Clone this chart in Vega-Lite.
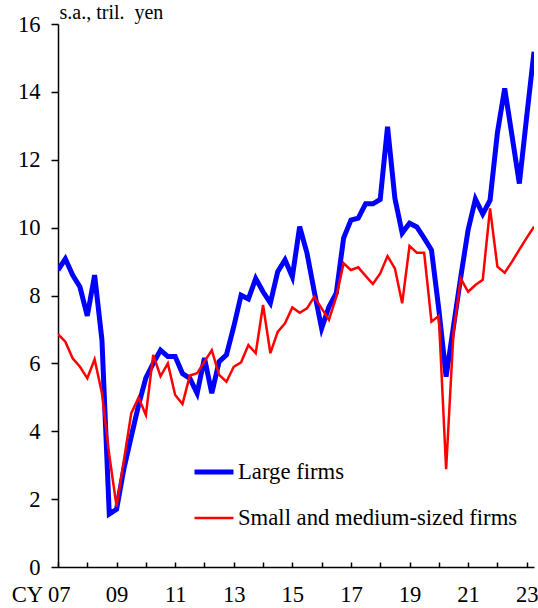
{
  "$schema": "https://vega.github.io/schema/vega-lite/v6.json",
  "autosize": {"type": "none"},
  "padding": {"left": 58, "top": 24, "right": 4, "bottom": 41},
  "width": 476,
  "height": 543,
  "background": "white",
  "config": {
    "view": {"stroke": null},
    "font": "Times New Roman, Liberation Serif, serif",
    "axis": {"labelFont": "Times New Roman, Liberation Serif, serif", "titleFont": "Times New Roman, Liberation Serif, serif", "labelColor": "#000", "titleColor": "#000", "domainColor": "#000", "tickColor": "#000", "grid": false, "domainWidth": 1.5, "tickWidth": 1.5},
    "legend": {"labelFont": "Times New Roman, Liberation Serif, serif", "labelFontSize": 22.7, "labelColor": "#000", "labelLimit": 0, "symbolType": "stroke", "symbolSize": 1521, "padding": 0, "rowPadding": 13, "labelOffset": 2}
  },
  "datasets": {
    "rows": [
      {"t": 2007.0, "series": "Large firms", "value": 8.75},
      {"t": 2007.25, "series": "Large firms", "value": 9.08},
      {"t": 2007.5, "series": "Large firms", "value": 8.6},
      {"t": 2007.75, "series": "Large firms", "value": 8.25},
      {"t": 2008.0, "series": "Large firms", "value": 7.4},
      {"t": 2008.25, "series": "Large firms", "value": 8.6},
      {"t": 2008.5, "series": "Large firms", "value": 6.69},
      {"t": 2008.75, "series": "Large firms", "value": 1.56},
      {"t": 2009.0, "series": "Large firms", "value": 1.7},
      {"t": 2009.25, "series": "Large firms", "value": 2.9},
      {"t": 2009.5, "series": "Large firms", "value": 3.84},
      {"t": 2009.75, "series": "Large firms", "value": 4.77},
      {"t": 2010.0, "series": "Large firms", "value": 5.57},
      {"t": 2010.25, "series": "Large firms", "value": 6.0},
      {"t": 2010.5, "series": "Large firms", "value": 6.39},
      {"t": 2010.75, "series": "Large firms", "value": 6.2},
      {"t": 2011.0, "series": "Large firms", "value": 6.2},
      {"t": 2011.25, "series": "Large firms", "value": 5.7},
      {"t": 2011.5, "series": "Large firms", "value": 5.56},
      {"t": 2011.75, "series": "Large firms", "value": 5.12},
      {"t": 2012.0, "series": "Large firms", "value": 6.16},
      {"t": 2012.25, "series": "Large firms", "value": 5.12},
      {"t": 2012.5, "series": "Large firms", "value": 6.05},
      {"t": 2012.75, "series": "Large firms", "value": 6.25},
      {"t": 2013.0, "series": "Large firms", "value": 7.08},
      {"t": 2013.25, "series": "Large firms", "value": 8.01},
      {"t": 2013.5, "series": "Large firms", "value": 7.9},
      {"t": 2013.75, "series": "Large firms", "value": 8.5},
      {"t": 2014.0, "series": "Large firms", "value": 8.11},
      {"t": 2014.25, "series": "Large firms", "value": 7.78},
      {"t": 2014.5, "series": "Large firms", "value": 8.7},
      {"t": 2014.75, "series": "Large firms", "value": 9.05},
      {"t": 2015.0, "series": "Large firms", "value": 8.55},
      {"t": 2015.25, "series": "Large firms", "value": 10.03},
      {"t": 2015.5, "series": "Large firms", "value": 9.25},
      {"t": 2015.75, "series": "Large firms", "value": 8.11},
      {"t": 2016.0, "series": "Large firms", "value": 7.03},
      {"t": 2016.25, "series": "Large firms", "value": 7.67},
      {"t": 2016.5, "series": "Large firms", "value": 8.07},
      {"t": 2016.75, "series": "Large firms", "value": 9.69},
      {"t": 2017.0, "series": "Large firms", "value": 10.22},
      {"t": 2017.25, "series": "Large firms", "value": 10.28},
      {"t": 2017.5, "series": "Large firms", "value": 10.7},
      {"t": 2017.75, "series": "Large firms", "value": 10.7},
      {"t": 2018.0, "series": "Large firms", "value": 10.83},
      {"t": 2018.25, "series": "Large firms", "value": 12.97},
      {"t": 2018.5, "series": "Large firms", "value": 10.87},
      {"t": 2018.75, "series": "Large firms", "value": 9.84},
      {"t": 2019.0, "series": "Large firms", "value": 10.13},
      {"t": 2019.25, "series": "Large firms", "value": 10.02},
      {"t": 2019.5, "series": "Large firms", "value": 9.69},
      {"t": 2019.75, "series": "Large firms", "value": 9.34},
      {"t": 2020.0, "series": "Large firms", "value": 7.6},
      {"t": 2020.25, "series": "Large firms", "value": 5.61},
      {"t": 2020.5, "series": "Large firms", "value": 7.08},
      {"t": 2020.75, "series": "Large firms", "value": 8.55},
      {"t": 2021.0, "series": "Large firms", "value": 9.93},
      {"t": 2021.25, "series": "Large firms", "value": 10.84},
      {"t": 2021.5, "series": "Large firms", "value": 10.4},
      {"t": 2021.75, "series": "Large firms", "value": 10.81},
      {"t": 2022.0, "series": "Large firms", "value": 12.79},
      {"t": 2022.25, "series": "Large firms", "value": 14.1},
      {"t": 2022.5, "series": "Large firms", "value": 12.7},
      {"t": 2022.75, "series": "Large firms", "value": 11.3},
      {"t": 2023.0, "series": "Large firms", "value": 13.27},
      {"t": 2023.25, "series": "Large firms", "value": 15.18},
      {"t": 2007.0, "series": "Small and medium-sized firms", "value": 6.86},
      {"t": 2007.25, "series": "Small and medium-sized firms", "value": 6.64},
      {"t": 2007.5, "series": "Small and medium-sized firms", "value": 6.15},
      {"t": 2007.75, "series": "Small and medium-sized firms", "value": 5.9},
      {"t": 2008.0, "series": "Small and medium-sized firms", "value": 5.56},
      {"t": 2008.25, "series": "Small and medium-sized firms", "value": 6.12},
      {"t": 2008.5, "series": "Small and medium-sized firms", "value": 5.12},
      {"t": 2008.75, "series": "Small and medium-sized firms", "value": 3.3},
      {"t": 2009.0, "series": "Small and medium-sized firms", "value": 1.78},
      {"t": 2009.25, "series": "Small and medium-sized firms", "value": 3.15},
      {"t": 2009.5, "series": "Small and medium-sized firms", "value": 4.53},
      {"t": 2009.75, "series": "Small and medium-sized firms", "value": 4.99},
      {"t": 2010.0, "series": "Small and medium-sized firms", "value": 4.48},
      {"t": 2010.25, "series": "Small and medium-sized firms", "value": 6.25},
      {"t": 2010.5, "series": "Small and medium-sized firms", "value": 5.62},
      {"t": 2010.75, "series": "Small and medium-sized firms", "value": 6.0},
      {"t": 2011.0, "series": "Small and medium-sized firms", "value": 5.07},
      {"t": 2011.25, "series": "Small and medium-sized firms", "value": 4.8},
      {"t": 2011.5, "series": "Small and medium-sized firms", "value": 5.64},
      {"t": 2011.75, "series": "Small and medium-sized firms", "value": 5.71},
      {"t": 2012.0, "series": "Small and medium-sized firms", "value": 6.05},
      {"t": 2012.25, "series": "Small and medium-sized firms", "value": 6.39},
      {"t": 2012.5, "series": "Small and medium-sized firms", "value": 5.66},
      {"t": 2012.75, "series": "Small and medium-sized firms", "value": 5.46},
      {"t": 2013.0, "series": "Small and medium-sized firms", "value": 5.9},
      {"t": 2013.25, "series": "Small and medium-sized firms", "value": 6.03},
      {"t": 2013.5, "series": "Small and medium-sized firms", "value": 6.54},
      {"t": 2013.75, "series": "Small and medium-sized firms", "value": 6.3},
      {"t": 2014.0, "series": "Small and medium-sized firms", "value": 7.72},
      {"t": 2014.25, "series": "Small and medium-sized firms", "value": 6.3},
      {"t": 2014.5, "series": "Small and medium-sized firms", "value": 6.93},
      {"t": 2014.75, "series": "Small and medium-sized firms", "value": 7.18},
      {"t": 2015.0, "series": "Small and medium-sized firms", "value": 7.65},
      {"t": 2015.25, "series": "Small and medium-sized firms", "value": 7.49},
      {"t": 2015.5, "series": "Small and medium-sized firms", "value": 7.62},
      {"t": 2015.75, "series": "Small and medium-sized firms", "value": 7.96},
      {"t": 2016.0, "series": "Small and medium-sized firms", "value": 7.62},
      {"t": 2016.25, "series": "Small and medium-sized firms", "value": 7.28},
      {"t": 2016.5, "series": "Small and medium-sized firms", "value": 7.96},
      {"t": 2016.75, "series": "Small and medium-sized firms", "value": 8.95},
      {"t": 2017.0, "series": "Small and medium-sized firms", "value": 8.75},
      {"t": 2017.25, "series": "Small and medium-sized firms", "value": 8.83},
      {"t": 2017.5, "series": "Small and medium-sized firms", "value": 8.58},
      {"t": 2017.75, "series": "Small and medium-sized firms", "value": 8.34},
      {"t": 2018.0, "series": "Small and medium-sized firms", "value": 8.65},
      {"t": 2018.25, "series": "Small and medium-sized firms", "value": 9.16},
      {"t": 2018.5, "series": "Small and medium-sized firms", "value": 8.8},
      {"t": 2018.75, "series": "Small and medium-sized firms", "value": 7.77},
      {"t": 2019.0, "series": "Small and medium-sized firms", "value": 9.46},
      {"t": 2019.25, "series": "Small and medium-sized firms", "value": 9.26},
      {"t": 2019.5, "series": "Small and medium-sized firms", "value": 9.26},
      {"t": 2019.75, "series": "Small and medium-sized firms", "value": 7.23},
      {"t": 2020.0, "series": "Small and medium-sized firms", "value": 7.4},
      {"t": 2020.25, "series": "Small and medium-sized firms", "value": 2.88},
      {"t": 2020.5, "series": "Small and medium-sized firms", "value": 6.89},
      {"t": 2020.75, "series": "Small and medium-sized firms", "value": 8.5},
      {"t": 2021.0, "series": "Small and medium-sized firms", "value": 8.11},
      {"t": 2021.25, "series": "Small and medium-sized firms", "value": 8.31},
      {"t": 2021.5, "series": "Small and medium-sized firms", "value": 8.46},
      {"t": 2021.75, "series": "Small and medium-sized firms", "value": 10.57},
      {"t": 2022.0, "series": "Small and medium-sized firms", "value": 8.85},
      {"t": 2022.25, "series": "Small and medium-sized firms", "value": 8.67},
      {"t": 2022.5, "series": "Small and medium-sized firms", "value": 9.0},
      {"t": 2022.75, "series": "Small and medium-sized firms", "value": 9.35},
      {"t": 2023.0, "series": "Small and medium-sized firms", "value": 9.7},
      {"t": 2023.25, "series": "Small and medium-sized firms", "value": 10.03}
    ]
  },
  "data": {"name": "rows"},
  "mark": {"type": "line", "clip": true},
  "encoding": {
    "x": {
      "field": "t", "type": "quantitative",
      "scale": {"domain": [2007, 2023.25], "nice": false, "zero": false},
      "axis": {
        "title": null,
        "values": [2007, 2008, 2009, 2010, 2011, 2012, 2013, 2014, 2015, 2016, 2017, 2018, 2019, 2020, 2021, 2022, 2023],
        "labelExpr": "datum.value == 2007 ? 'CY 07' : (datum.value % 2 == 1 ? substring(toString(datum.value), 2) : '')",
        "labelFontSize": 22.6,
        "labelAlign": {"condition": {"test": "datum.value == 2007", "value": "right"}, "value": "center"},
        "labelOffset": {"condition": {"test": "datum.value == 2007", "value": 12}, "value": 0},
        "tickSize": -5,
        "labelPadding": 21,
        "labelFlush": false,
        "labelOverlap": false
      }
    },
    "y": {
      "field": "value", "type": "quantitative",
      "scale": {"domain": [0, 16], "nice": false},
      "axis": {
        "title": "s.a., tril.\u00a0 yen",
        "titleAngle": 0,
        "titleAlign": "left",
        "titleBaseline": "alphabetic",
        "titleX": 1,
        "titleY": -6,
        "titleFontSize": 20,
        "titleFontWeight": "normal",
        "values": [0, 2, 4, 6, 8, 10, 12, 14, 16],
        "labelFontSize": 22.6,
        "tickSize": 7,
        "labelPadding": 11
      }
    },
    "color": {
      "field": "series", "type": "nominal",
      "scale": {"domain": ["Large firms", "Small and medium-sized firms"], "range": ["#0000ff", "#ff0000"]},
      "legend": {"title": null, "orient": "none", "legendX": 134, "legendY": 426}
    },
    "strokeWidth": {
      "field": "series", "type": "nominal",
      "scale": {"domain": ["Large firms", "Small and medium-sized firms"], "range": [5, 2.5]},
      "legend": {"title": null, "orient": "none", "legendX": 134, "legendY": 426}
    }
  }
}
